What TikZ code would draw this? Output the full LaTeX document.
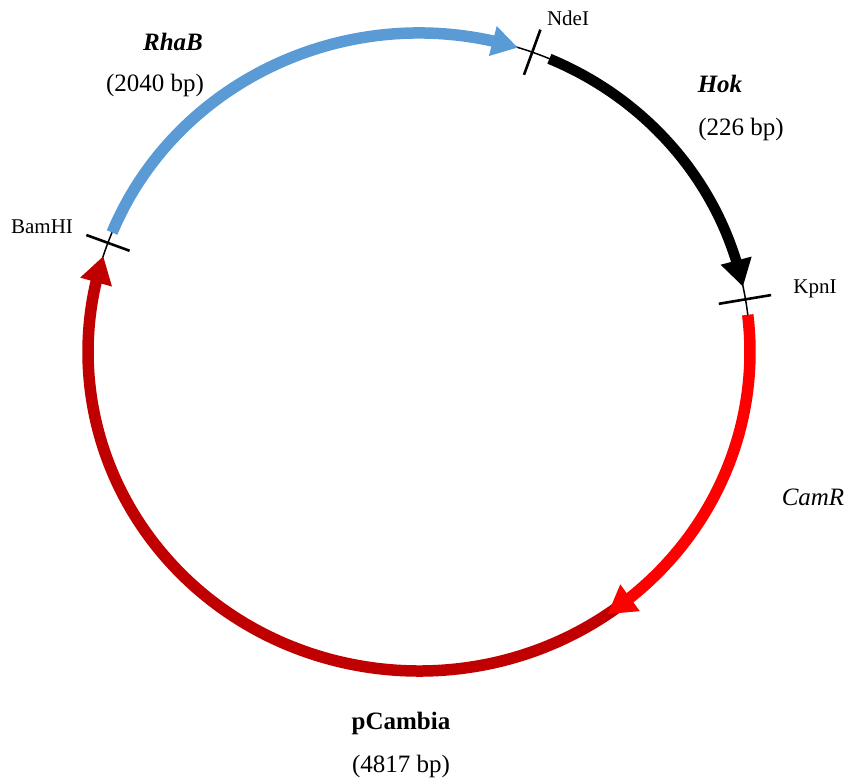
\documentclass[tikz,border=0pt]{standalone}
\usepackage{fontspec}
\setmainfont{Liberation Serif}
\usetikzlibrary{arrows.meta,bending}
\definecolor{geneblue}{HTML}{5B9BD5}
\definecolor{vectorred}{HTML}{C00000}
\definecolor{markerred}{HTML}{FF0000}

\begin{document}
\begin{tikzpicture}[x=1pt,y=1pt,
  backbone/.style={line width=1.5pt, black},
  genearc/.style={line width=#1},
  cutmark/.style={line width=2.6pt, black},
  sitelabel/.style={font=\fontsize{21}{24}\selectfont, inner sep=0pt},
  genelabel/.style={font=\fontsize{25}{28}\selectfont, inner sep=0pt}
]
\useasboundingbox (0,0) rectangle (845,780);

% plasmid centre and radii
\coordinate (c) at (419,428);

% thin backbone ring
\draw[backbone] (c) ellipse [x radius=331pt, y radius=319pt];

% pCambia backbone segment (starts beneath the CamR arrowhead)
\draw[genearc=11.5pt, vectorred, -{Triangle[length=27pt,width=31pt]}]
  ([shift={(c)}]-52:331pt and 319pt)
  arc[start angle=-52, end angle=-197.5, x radius=331pt, y radius=319pt];

% CamR
\draw[genearc=11.5pt, markerred, -{Triangle[length=28pt,width=31pt]}]
  ([shift={(c)}]6.7:331pt and 319pt)
  arc[start angle=6.7, end angle=-55.3, x radius=331pt, y radius=319pt];

% RhaB
\draw[genearc=11.5pt, geneblue, -{Triangle[length=26pt,width=29pt]}]
  ([shift={(c)}]158:331pt and 319pt)
  arc[start angle=158, end angle=72.6, x radius=331pt, y radius=319pt];

% Hok
\draw[genearc=10.5pt, black, -{Triangle[length=27pt,width=30pt]}]
  ([shift={(c)}]66.8:331pt and 319pt)
  arc[start angle=66.8, end angle=11.8, x radius=331pt, y radius=319pt];

% restriction sites
\coordinate (ndeIin)  at ([shift={(c)}]70:307pt and 295pt);
\coordinate (ndeIout) at ([shift={(c)}]70:355pt and 343pt);
\coordinate (kpnIin)  at ([shift={(c)}]9.5:304pt and 292pt);
\coordinate (kpnIout) at ([shift={(c)}]9.5:357pt and 345pt);
\coordinate (bamHIin)  at ([shift={(c)}]160:308pt and 296pt);
\coordinate (bamHIout) at ([shift={(c)}]160:354pt and 342pt);
\draw[cutmark] (ndeIin) -- (ndeIout);
\draw[cutmark] (kpnIin) -- (kpnIout);
\draw[cutmark] (bamHIin) -- (bamHIout);

% labels
\node[sitelabel] (ndeI) at (568,762) {NdeI};
\node[sitelabel] (kpnI) at (815,491) {KpnI};
\node[sitelabel] (bamHI) at (42,553) {BamHI};

\node[genelabel] (rhaB) at (173,738) {\textbf{\textit{RhaB}}};
\node[genelabel] (rhaBlen) at (155,695) {(2040 bp)};
\node[genelabel] (hok) at (720,696) {\textbf{\textit{Hok}}};
\node[genelabel] (hoklen) at (741,651) {(226 bp)};
\node[genelabel] (camR) at (813,283) {\textit{CamR}};
\node[genelabel] (pcam) at (401,57) {\textbf{pCambia}};
\node[genelabel] (pcamlen) at (401,14) {(4817 bp)};
\end{tikzpicture}
\end{document}
